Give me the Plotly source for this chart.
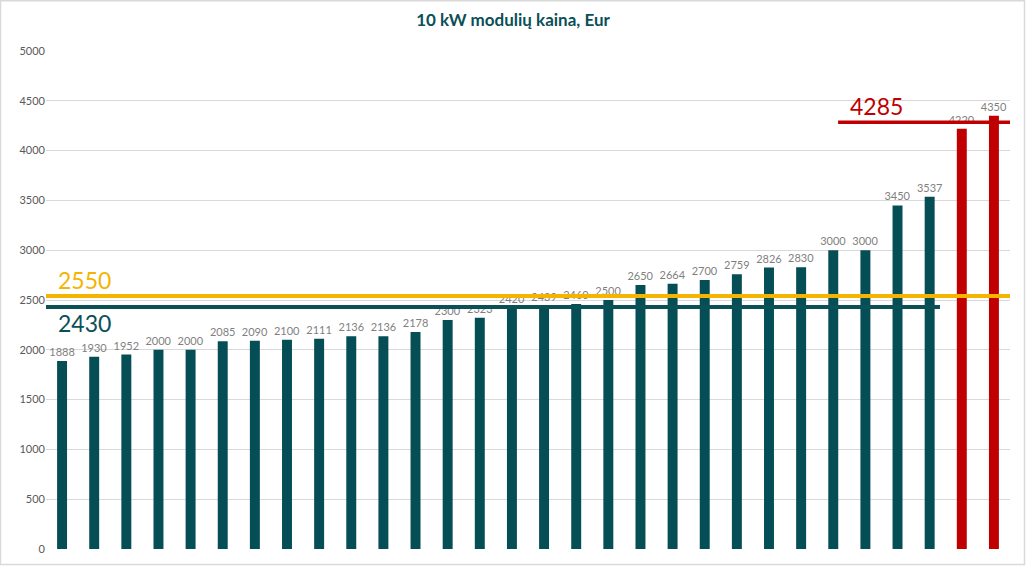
import plotly.graph_objects as go

prices = [1888, 1930, 1952, 2000, 2000, 2085, 2090, 2100, 2111, 2136, 2136, 2178,
          2300, 2323, 2420, 2439, 2460, 2500, 2650, 2664, 2700, 2759, 2826, 2830,
          3000, 3000, 3450, 3537, 4220, 4350]
categories = list(range(len(prices)))
bar_colors = ["#064E55"] * 28 + ["#C00000"] * 2

avg_all = 2550
avg_low = 2430
avg_high = 4285
y_ticks = [0, 500, 1000, 1500, 2000, 2500, 3000, 3500, 4000, 4500, 5000]

fig = go.Figure()
fig.add_trace(go.Bar(
    x=categories, y=prices, marker=dict(color=bar_colors, line=dict(width=0)),
    text=[str(v) for v in prices], textposition="outside", constraintext="none",
    textfont=dict(family="Lato", size=11, color="#7F7F7F"),
    cliponaxis=False, width=0.31, showlegend=False, hoverinfo="skip"))

# average lines
fig.add_trace(go.Scatter(x=[-0.5, 27.32], y=[avg_low, avg_low], mode="lines",
                         line=dict(color="#0B4F57", width=4), showlegend=False, hoverinfo="skip"))
fig.add_trace(go.Scatter(x=[24.15, 29.5], y=[avg_high, avg_high], mode="lines",
                         line=dict(color="#C00000", width=3.5), showlegend=False, hoverinfo="skip"))
fig.add_trace(go.Scatter(x=[-0.5, 29.5], y=[avg_all - 10, avg_all - 10], mode="lines",
                         line=dict(color="#F4B400", width=4), showlegend=False, hoverinfo="skip"))

fig.add_annotation(x=-0.18, y=2540, text=str(avg_all), showarrow=False, xanchor="left", yanchor="bottom",
                   font=dict(family="Lato", size=23, color="#F4B400"))
fig.add_annotation(x=-0.18, y=2430, text=str(avg_low), showarrow=False, xanchor="left", yanchor="top",
                   font=dict(family="Lato", size=23, color="#0B4F57"))
fig.add_annotation(x=24.45, y=4290, text=str(avg_high), showarrow=False, xanchor="left", yanchor="bottom",
                   font=dict(family="Lato", size=23, color="#C00000"))

fig.update_layout(
    width=1026, height=567,
    margin=dict(l=46, r=16, t=51, b=16),
    paper_bgcolor="white", plot_bgcolor="white",
    title=dict(text="<b>10 kW modulių kaina, Eur</b>", x=0.5, xanchor="center", y=0.964, yanchor="middle",
               font=dict(family="Lato", size=17, color="#0B4F57")),
    xaxis=dict(range=[-0.5, 29.5], showticklabels=False, showgrid=False, zeroline=False, fixedrange=True),
    yaxis=dict(range=[0, 5000], tickvals=y_ticks, showgrid=True, gridcolor="#D9D9D9", gridwidth=1,
               zeroline=False, tickfont=dict(family="Lato", size=11, color="#595959"),
               ticks="", ticklen=0),
    shapes=[dict(type="rect", xref="paper", yref="paper", x0=-45.5/964, x1=1+14.5/964, y0=-15.5/500, y1=1+50.5/500,
                 line=dict(color="#D9D9D9", width=1.5), fillcolor="rgba(0,0,0,0)")],
    bargap=0.69,
)
fig.write_html("out.html", config={"displayModeBar": False},
               post_script="document.body.style.margin='0';document.body.style.overflow='hidden';")
